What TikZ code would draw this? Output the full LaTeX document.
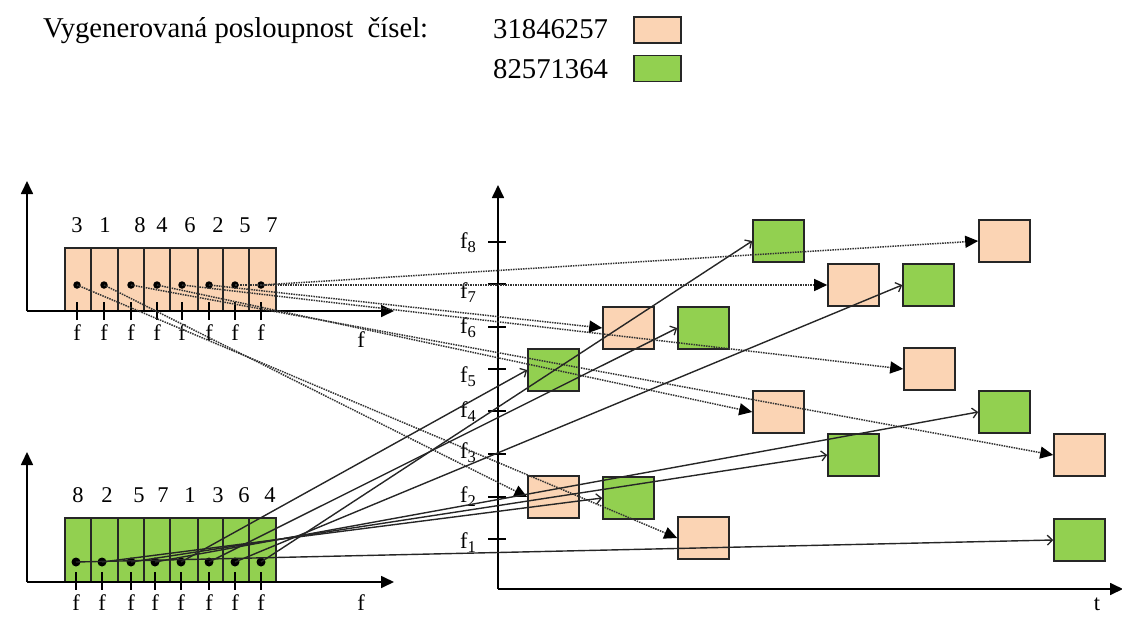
\documentclass[tikz,border=0pt]{standalone}
\usepackage{fontspec}
\setmainfont{Liberation Serif}
\usetikzlibrary{arrows.meta}
\definecolor{peach}{HTML}{FBD4B4}
\definecolor{lgreen}{HTML}{92D050}
\definecolor{edge}{HTML}{262626}
\begin{document}
\begin{tikzpicture}[x=1pt,y=-1pt,
  axis/.style={line width=1.7pt, black, -{Triangle[length=13pt,width=12pt]}},
  tickline/.style={line width=1.3pt, black},
  cellbox/.style={draw=edge, line width=1.4pt},
  slot/.style={draw=edge, line width=1.6pt, minimum width=51pt, minimum height=42pt, inner sep=0pt},
  pbox/.style={slot, fill=peach},
  gbox/.style={slot, fill=lgreen},
  pline/.style={densely dotted, line width=1.5pt, black!80, -{Triangle[length=13pt,width=12pt,black]}},
  gline/.style={line width=1.4pt, black!85, -{Straight Barb[length=5pt,width=10pt,line width=1.3pt]}},
  tdot/.style={circle, fill=black, inner sep=0pt, minimum size=7.5pt},
  bdot/.style={circle, fill=black, inner sep=0pt, minimum size=9pt},
  lab/.style={font=\fontsize{22.5}{24}\selectfont, anchor=base, inner sep=0pt},
  big/.style={font=\fontsize{28.7}{30}\selectfont, anchor=base west, inner sep=0pt},
  legbox/.style={draw=edge, line width=1.6pt, minimum width=47pt, minimum height=26pt, inner sep=0pt}
]
\useasboundingbox (0,0) rectangle (1122,616);

% legend
\node[big] (title) at (43,37) {Vygenerovaná posloupnost\ \ čísel:};
\node[big] (seqA) at (493,38) {31846257};
\node[big] (seqB) at (493,78) {82571364};
\node[legbox, fill=peach] (legA) at (657.5,30) {};
\node[legbox, fill=lgreen] (legB) at (657.5,68.5) {};

% left blocks
\filldraw[cellbox, fill=peach] (65,248) rectangle (276,311);
\filldraw[cellbox, fill=lgreen] (65,518) rectangle (276,582);
\foreach \x in {91,118,144,170,198,223,249} {
  \draw[cellbox] (\x,248) -- (\x,311);
  \draw[cellbox] (\x,518) -- (\x,582);
}

% left axes
\draw[axis] (27,311) -- (27,181);
\draw[axis] (27,311) -- (394,311);
\draw[axis] (27,582) -- (27,452);
\draw[axis] (27,582) -- (394,582);
\node[lab] (fa) at (361,347) {f};
\node[lab] (fb) at (361,610) {f};

% digits
\foreach \d/\x in {3/77,1/105,8/140,4/162,6/190,2/218,5/245,7/272}
  \node[lab] at (\x,232) {\d};
\foreach \d/\x in {8/78,2/107,5/139,7/163,1/190,3/218,6/244,4/270}
  \node[lab] at (\x,502) {\d};

% dots, ticks, f labels
\foreach \i/\x in {1/77,2/104,3/131,4/157,5/182,6/209,7/235,8/261} {
  \draw[tickline] (\x,302) -- (\x,320);
  \node[lab] at (\x,340) {f};
  \node[tdot] (t\i) at (\x,285) {};
}
\foreach \i/\x in {1/76,2/102,3/131,4/155,5/181,6/209,7/235,8/261} {
  \draw[tickline] (\x,572) -- (\x,590);
  \node[lab] at (\x,610) {f};
  \node[bdot] (b\i) at (\x,562) {};
}

% main axes
\draw[axis] (498,589) -- (498,185);
\draw[axis] (498,589) -- (1123,589);
\node[lab] (tl) at (1097,610) {t};
\foreach \n/\y/\b in {8/242/248,7/284/298,6/327/333,5/369/382,4/411/417,3/454/458,2/497/502,1/539/548} {
  \draw[tickline] (488,\y) -- (506,\y);
  \node[lab, anchor=base west] at (460,\b) {f\raisebox{-4.5pt}{\fontsize{16.5}{16}\selectfont\n}};
}

% time-frequency slots
\node[pbox] (P1) at (553.5,497) {};
\node[pbox] (P2) at (628.5,328) {};
\node[pbox] (P3) at (703.5,538) {};
\node[pbox] (P4) at (778.5,412) {};
\node[pbox] (P5) at (853.5,285) {};
\node[pbox] (P6) at (929.5,369) {};
\node[pbox] (P7) at (1004.5,241) {};
\node[pbox] (P8) at (1079.5,455) {};
\node[gbox] (G1) at (553.5,370) {};
\node[gbox] (G2) at (628.5,498) {};
\node[gbox] (G3) at (703.5,328) {};
\node[gbox] (G4) at (778.5,241) {};
\node[gbox] (G5) at (853.5,455) {};
\node[gbox] (G6) at (928.5,285) {};
\node[gbox] (G7) at (1004.5,412) {};
\node[gbox] (G8) at (1079.5,540) {};

% connectors: sequence 31846257
\draw[pline] (t1.center) -- (P3.west);
\draw[pline] (t2.center) -- (P1.west);
\draw[pline] (t3.center) -- (P8.west);
\draw[pline] (t4.center) -- (P4.west);
\draw[pline] (t5.center) -- (P6.west);
\draw[pline] (t6.center) -- (P2.west);
\draw[pline] (t7.center) -- (P5.west);
\draw[pline] (t8.center) -- (P7.west);
% connectors: sequence 82571364
\draw[gline] (b1.center) -- (G8.west);
\draw[gline] (b2.center) -- (G2.west);
\draw[gline] (b3.center) -- (G5.west);
\draw[gline] (b4.center) -- (G7.west);
\draw[gline] (b5.center) -- (G1.west);
\draw[gline] (b6.center) -- (G3.west);
\draw[gline] (b7.center) -- (G6.west);
\draw[gline] (b8.center) -- (G4.west);
\end{tikzpicture}
\end{document}
